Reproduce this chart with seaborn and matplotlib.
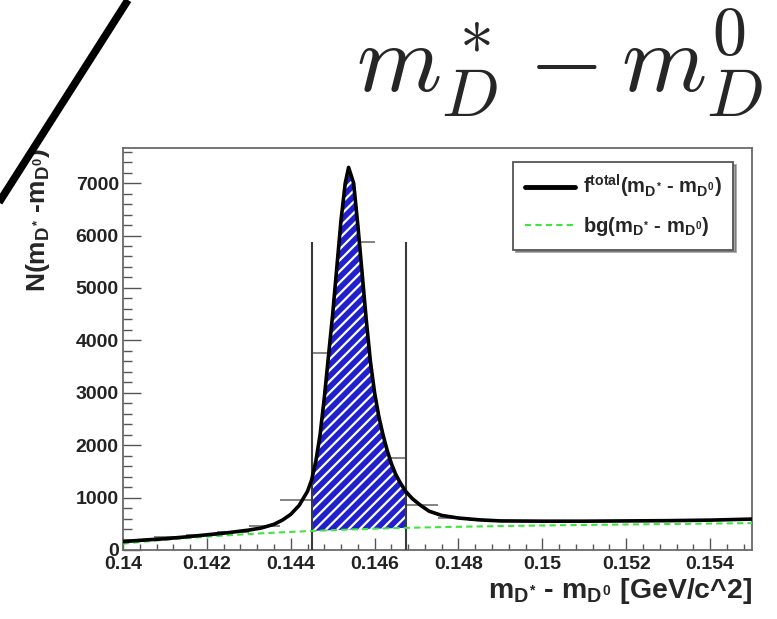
import numpy as np
import pandas as pd
import matplotlib
matplotlib.use("Agg")
import matplotlib.pyplot as plt
from matplotlib.lines import Line2D
from matplotlib.ticker import MultipleLocator
import seaborn as sns

# ---------------- data ----------------
dm = [0.1400, 0.1405, 0.1410, 0.1415, 0.1420, 0.1425, 0.1430, 0.1433, 0.1436, 0.1438,
      0.1440, 0.1442, 0.1444, 0.1445, 0.1446, 0.1447, 0.1448, 0.1449, 0.1450, 0.1451,
      0.1452, 0.1453, 0.14538, 0.1455, 0.1456, 0.1457, 0.1458, 0.1459, 0.1460, 0.1461,
      0.1462, 0.1463, 0.1464, 0.1465, 0.1466, 0.14674, 0.1469, 0.1471, 0.1473, 0.1476,
      0.1480, 0.1485, 0.1490, 0.1500, 0.1510, 0.1520, 0.1530, 0.1540, 0.1550]
f_total = [160, 190, 215, 250, 290, 330, 380, 420, 490, 570,
           680, 850, 1120, 1340, 1700, 2200, 2900, 3700, 4500, 5400,
           6300, 7000, 7300, 7000, 6200, 5300, 4400, 3600, 3000, 2550,
           2200, 1900, 1650, 1450, 1300, 1120, 980, 850, 740, 660,
           610, 575, 555, 550, 550, 555, 560, 570, 590]
f_bg = [120, 160, 195, 225, 255, 280, 305, 318, 330, 338,
        345, 352, 360, 364, 367, 370, 373, 376, 379, 382,
        385, 388, 390, 393, 396, 398, 401, 403, 406, 408,
        410, 413, 415, 417, 419, 422, 425, 429, 432, 437,
        443, 450, 457, 468, 478, 487, 496, 505, 513]

bin_centers = [0.140375, 0.141125, 0.141875, 0.142625, 0.143375, 0.144125, 0.144875,
               0.145625, 0.146375, 0.147125, 0.147875, 0.148625, 0.149375, 0.150125,
               0.150875, 0.151625, 0.152375, 0.153125, 0.153875, 0.154625]
bin_counts = [200, 240, 290, 350, 450, 950, 3760, 5880, 1760, 860,
              620, 570, 555, 550, 550, 555, 560, 560, 570, 585]
bin_width = 0.00075

window = [0.1445, 0.14674]
window_height = 5880

x_ticks = [0.14, 0.142, 0.144, 0.146, 0.148, 0.15, 0.152, 0.154]
x_tick_labels = ["0.14", "0.142", "0.144", "0.146", "0.148", "0.15", "0.152", "0.154"]
y_ticks = [0, 1000, 2000, 3000, 4000, 5000, 6000, 7000]

# ---------------- style ----------------
sns.set_style("ticks")
plt.rcParams["font.family"] = ["Liberation Sans", "DejaVu Sans"]
plt.rcParams["font.weight"] = "bold"
plt.rcParams["mathtext.fontset"] = "custom"
plt.rcParams["mathtext.rm"] = "Liberation Sans:bold"
plt.rcParams["mathtext.it"] = "Liberation Sans:bold"
plt.rcParams["mathtext.bf"] = "Liberation Sans:bold"
plt.rcParams["hatch.linewidth"] = 1.6

fig = plt.figure(figsize=(7.77, 6.19), dpi=100)
ax = fig.add_axes([123 / 777, 1 - 550 / 619, 629 / 777, 402 / 619])

df = pd.DataFrame({"dm": dm, "total": f_total, "bg": f_bg})

# histogram points (horizontal error bars)
ax.errorbar(bin_centers, bin_counts, xerr=bin_width / 2, fmt="none",
            ecolor="#7a7a7a", elinewidth=1.3, capsize=0, zorder=1)

# signal window fill
mask = (df["dm"] >= window[0]) & (df["dm"] <= window[1])
sub = df[mask]
ax.fill_between(sub["dm"], sub["bg"], sub["total"], facecolor="#2020cc",
                edgecolor="white", hatch="///", linewidth=0, zorder=2)

ax.vlines(window, 0, window_height, color="#3a3a3a", lw=1.5, zorder=3)

sns.lineplot(data=df, x="dm", y="bg", ax=ax, color="#3ee63e", lw=1.5,
             linestyle=(0, (3, 2)), zorder=4, label=r"bg(m$_{D^{*}}$ - m$_{D^{0}}$)")
sns.lineplot(data=df, x="dm", y="total", ax=ax, color="black", lw=2.6,
             zorder=5, label=r"f$^{total}$(m$_{D^{*}}$ - m$_{D^{0}}$)")

ax.set_xlim(0.14, 0.155)
ax.set_ylim(0, 7670)
ax.set_xticks(x_ticks)
ax.set_xticklabels(x_tick_labels)
ax.set_yticks(y_ticks)
ax.xaxis.set_minor_locator(MultipleLocator(0.0004))
ax.yaxis.set_minor_locator(MultipleLocator(200))
ax.tick_params(axis="x", which="major", direction="in", length=9, width=1, labelsize=14, pad=4, color="#555555")
ax.tick_params(axis="x", which="minor", direction="in", length=4.5, width=1, color="#555555")
ax.tick_params(axis="y", which="major", direction="in", length=13, width=1, labelsize=14, pad=3, color="#555555")
ax.tick_params(axis="y", which="minor", direction="in", length=6.5, width=1, color="#555555")
for lab in ax.get_xticklabels() + ax.get_yticklabels():
    lab.set_fontweight("bold")
    lab.set_color("#222222")

for s in ax.spines.values():
    s.set_color("#6a6a6a")
    s.set_linewidth(1.3)

ax.set_xlabel(r"m$_{D^{*}}$ - m$_{D^{0}}$ [GeV/c^2]", fontsize=20.5, fontweight="bold", loc="right")
ax.xaxis.set_label_coords(1.0, -0.065)
ax.set_ylabel(r"N(m$_{D^{*}}$ -m$_{D^{0}}$)", fontsize=19, fontweight="bold", loc="top")
ax.yaxis.set_label_coords(-0.113, 1.0)

h, l = ax.get_legend_handles_labels()
leg = ax.legend(h[::-1], l[::-1], loc="upper right", bbox_to_anchor=(0.970, 0.965),
                borderaxespad=0, fontsize=14.5, frameon=True, fancybox=False, shadow=True,
                handlelength=2.5, borderpad=0.55, labelspacing=0.75, handletextpad=0.4)
leg.get_frame().set_edgecolor("#555555")
leg.get_frame().set_linewidth(1.3)
for line in leg.get_lines():
    if line.get_color() == "black":
        line.set_linewidth(3.5)

# big title in Computer Modern
fig.text(356 / 777, 1 - 92 / 619, r"$m_D^* - m_D^0$", fontsize=70,
         math_fontfamily="cm", ha="left", va="baseline")

# diagonal stroke at top left
fig.add_artist(Line2D([128 / 777, -2 / 777], [1.0, 1 - 204 / 619],
                      transform=fig.transFigure, color="black", lw=5.5,
                      solid_capstyle="butt"))

fig.savefig("out.png", dpi=100)
